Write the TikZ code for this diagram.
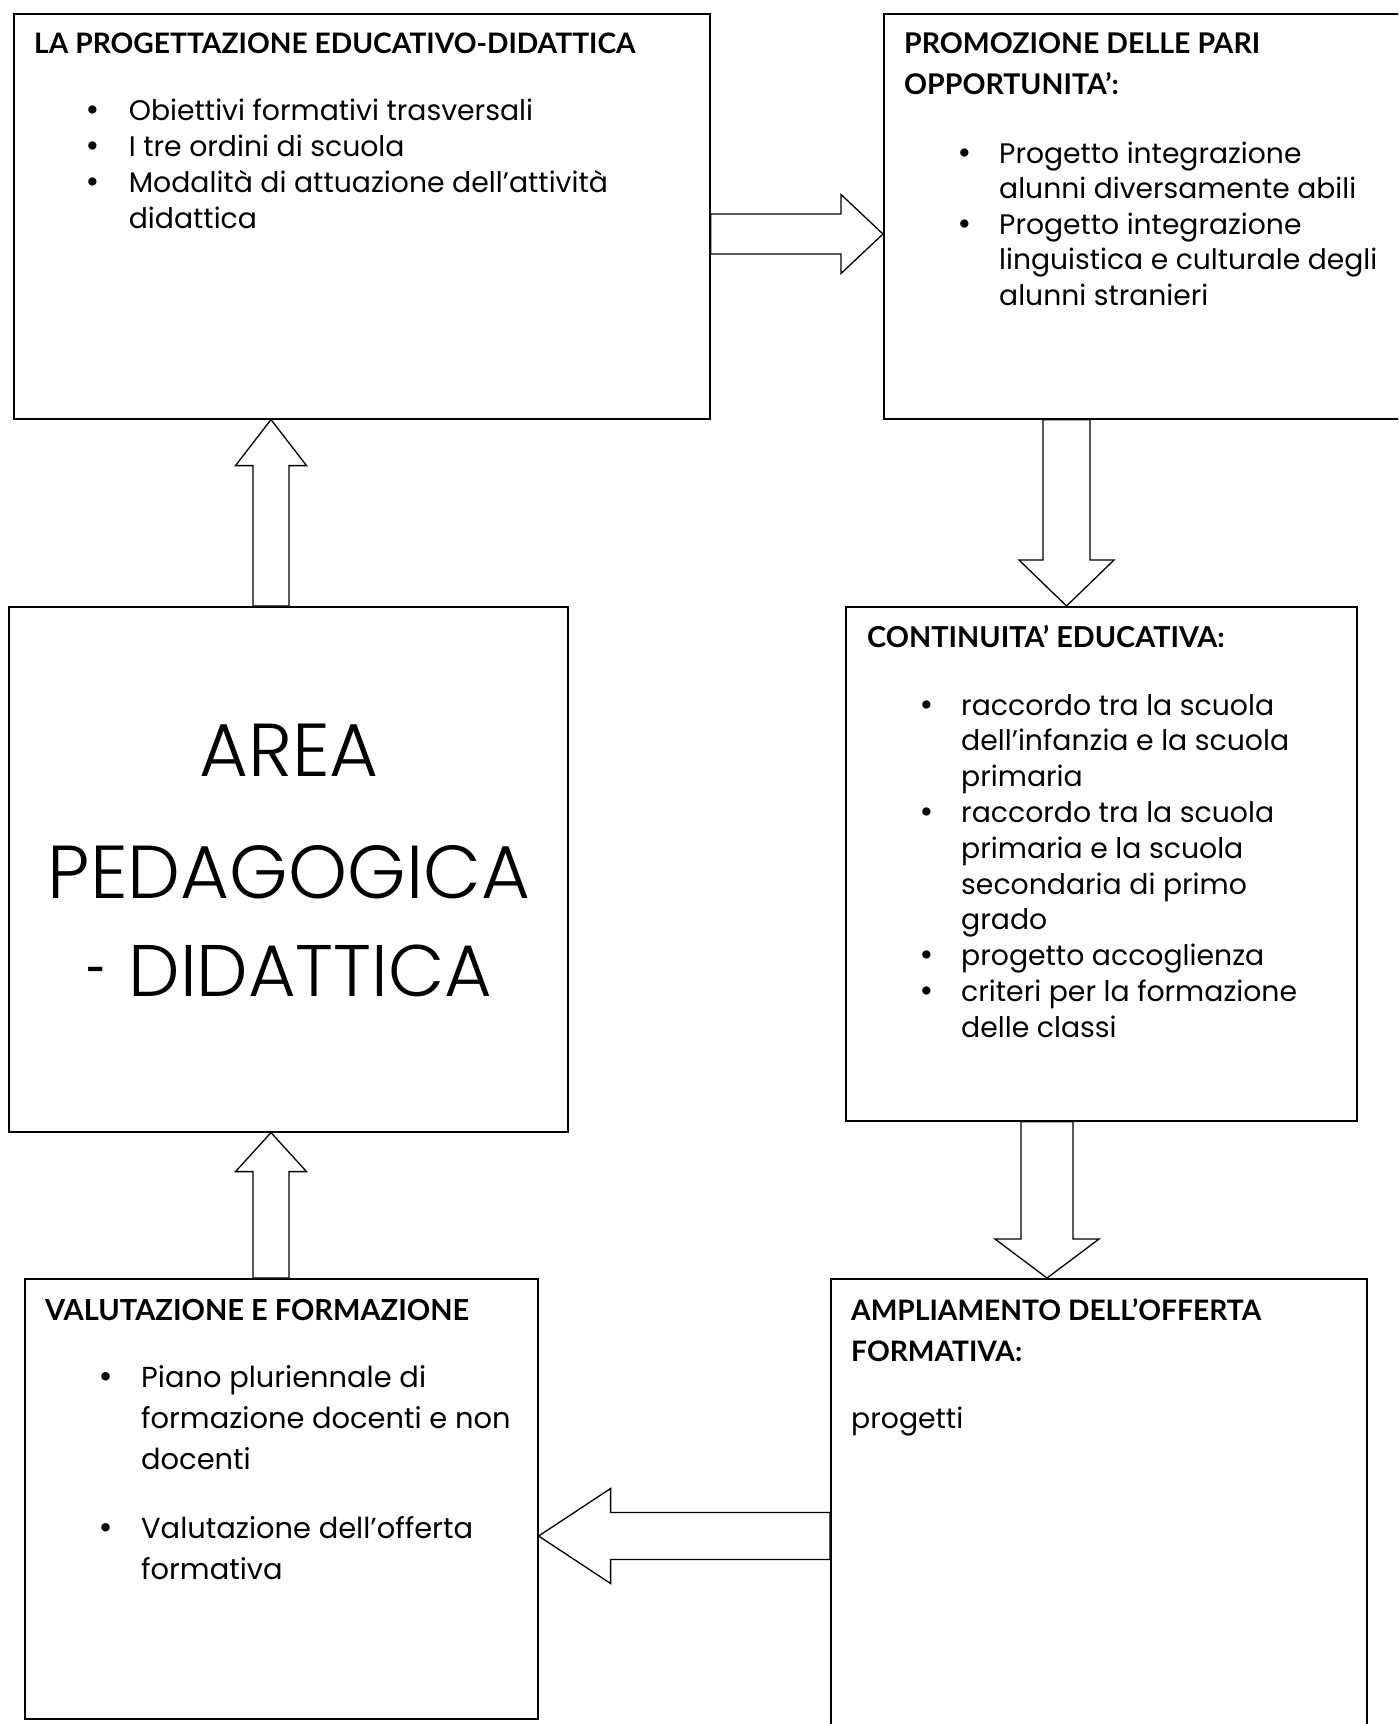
\documentclass[tikz,border=0pt]{standalone}
\usepackage{graphicx}
\usepackage{fontspec}
\setmainfont{Poppins}
\newfontfamily\titlef{Lato}
\newfontfamily\symf{DejaVu Sans}
\newfontfamily\lightf{Poppins Light}
\usetikzlibrary{calc}
\newlength\bw
\newcommand\bul{\makebox[\bw][l]{\symf •}}
\newcommand\ind{\hspace*{\bw}}
% block arrow: start, tip, half shaft, half head, head length
\newcommand\blockarrow[5]{%
  \coordinate (ba-h) at ($(#2)!#5!(#1)$);
  \draw[arrowline] ($(#1)!#3!90:(#2)$) -- ($(ba-h)!#3!90:(#2)$) -- ($(ba-h)!#4!90:(#2)$)
    -- (#2) -- ($(ba-h)!#4!-90:(#2)$) -- ($(ba-h)!#3!-90:(#2)$) -- ($(#1)!#3!-90:(#2)$) -- cycle;
}
\tikzset{
  box/.style={draw, line width=1.6pt, fill=white, inner sep=0pt, anchor=north west},
  arrowline/.style={line width=1.3pt, draw=black, fill=white, line join=miter},
  ttl/.style={anchor=base west, inner sep=0pt, font=\titlef\bfseries\fontsize{28.2}{41}\selectfont},
  txt/.style={anchor=base west, inner sep=0pt, font=\fontsize{28.3}{36}\selectfont},
  bigtxt/.style={anchor=base, inner sep=0pt, font=\lightf\fontsize{75}{110}\selectfont},
}
\begin{document}
\begin{tikzpicture}[x=1pt, y=-1pt]
\useasboundingbox (0,0) rectangle (1398,1724);
\fill[white] (0,0) rectangle (1398,1724);
\clip (0,0) rectangle (1398,1724);

% boxes
\node[box, minimum width=696pt, minimum height=405pt] (prog) at (13,13) {};
\node[box, minimum width=530pt, minimum height=405pt] (pari) at (883,13) {};
\node[box, minimum width=559pt, minimum height=525pt] (area) at (8,606) {};
\node[box, minimum width=511pt, minimum height=514pt] (cont) at (845,606) {};
\node[box, minimum width=513pt, minimum height=440pt] (val) at (24,1278) {};
\node[box, minimum width=536pt, minimum height=470pt] (ampl) at (830,1278) {};

% arrow end points
\coordinate (a1s) at (prog.east |- 0,234);
\coordinate (a1t) at (pari.west |- 0,234);
\coordinate (a2s) at (pari.south -| 1066.5,0);
\coordinate (a2t) at (cont.north -| 1066.5,0);
\coordinate (a3s) at (cont.south -| 1047,0);
\coordinate (a3t) at (ampl.north -| 1047,0);
\coordinate (a4s) at (ampl.west |- 0,1536);
\coordinate (a4t) at (val.east |- 0,1536);
\coordinate (a5s) at (area.north -| 271,0);
\coordinate (a5t) at (prog.south -| 271,0);
\coordinate (a6s) at (val.north -| 271,0);
\coordinate (a6t) at (area.south -| 271,0);

\blockarrow{a1s}{a1t}{20pt}{39.5pt}{42pt}
\blockarrow{a2s}{a2t}{23.5pt}{47.5pt}{46pt}
\blockarrow{a3s}{a3t}{26pt}{52pt}{39pt}
\blockarrow{a4s}{a4t}{23.5pt}{47.5pt}{72pt}
\blockarrow{a5s}{a5t}{18pt}{35.5pt}{46pt}
\blockarrow{a6s}{a6t}{18pt}{35.5pt}{39pt}

% texts
\node[ttl] (progT) at (34,53) {LA PROGETTAZIONE EDUCATIVO-DIDATTICA};
\node[txt] (progB) at (84,120) {\setlength\bw{44.6pt}\begin{tabular}[t]{@{}l@{}}
\bul Obiettivi formativi trasversali\\
\bul I tre ordini di scuola\\
\bul Modalità di attuazione dell’attività\\
\ind didattica\end{tabular}};

\node[ttl, font=\titlef\bfseries\fontsize{28.5}{41}\selectfont] (pariT) at (904,53) {\begin{tabular}[t]{@{}l@{}}PROMOZIONE DELLE PARI\\ OPPORTUNITA’:\end{tabular}};
\node[txt, font=\fontsize{28.2}{35.5}\selectfont] (pariB) at (956,163) {\setlength\bw{43pt}\begin{tabular}[t]{@{}l@{}}
\bul Progetto integrazione\\
\ind alunni diversamente abili\\
\bul Progetto integrazione\\
\ind linguistica e culturale degli\\
\ind alunni stranieri\end{tabular}};

\node[bigtxt] (areaT) at (289,776) {AREA};
\node[bigtxt] (areaT2) at (289,898) {PEDAGOGICA};
\node[bigtxt, font=\lightf\fontsize{73}{110}\selectfont] (areaT3) at (290,996) {\scalebox{0.5}[1]{-}\hspace{22pt}DIDATTICA};

\node[ttl, font=\titlef\bfseries\fontsize{28.8}{41}\selectfont] (contT) at (867,647) {CONTINUITA’ EDUCATIVA:};
\node[txt, font=\fontsize{28.3}{35.8}\selectfont] (contB) at (918,715) {\setlength\bw{43pt}\begin{tabular}[t]{@{}l@{}}
\bul raccordo tra la scuola\\
\ind dell’infanzia e la scuola\\
\ind primaria\\
\bul raccordo tra la scuola\\
\ind primaria e la scuola\\
\ind secondaria di primo\\
\ind grado\\
\bul progetto accoglienza\\
\bul criteri per la formazione\\
\ind delle classi\end{tabular}};

\node[ttl, font=\titlef\bfseries\fontsize{29}{41}\selectfont] (valT) at (45,1320) {VALUTAZIONE E FORMAZIONE};
\node[txt, font=\fontsize{28.9}{41}\selectfont] (valB) at (97,1387) {\setlength\bw{44pt}\begin{tabular}[t]{@{}l@{}}
\bul Piano pluriennale di\\
\ind formazione docenti e non\\
\ind docenti\\[28pt]
\bul Valutazione dell’offerta\\
\ind formativa\end{tabular}};

\node[ttl] (amplT) at (851,1320) {\begin{tabular}[t]{@{}l@{}}AMPLIAMENTO DELL’OFFERTA\\ FORMATIVA:\end{tabular}};
\node[txt] (amplB) at (851,1428) {progetti};
\end{tikzpicture}
\end{document}
